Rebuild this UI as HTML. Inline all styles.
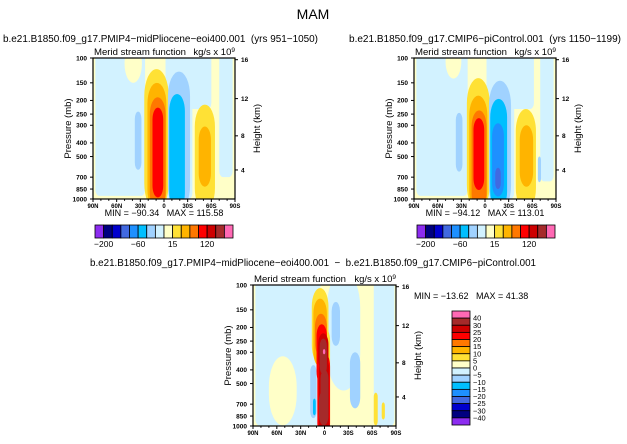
<!DOCTYPE html>
<html><head><meta charset="utf-8">
<style>
html,body{margin:0;padding:0;background:#fff;}
svg{display:block;font-family:"Liberation Sans",sans-serif;}
text{white-space:pre;}
</style></head>
<body>
<svg id="fig" width="627" height="444" viewBox="0 0 627 444" xmlns="http://www.w3.org/2000/svg">
<text x="313" y="19" font-size="14" text-anchor="middle">MAM</text>
<text x="3" y="42" font-size="10" textLength="315" lengthAdjust="spacingAndGlyphs">b.e21.B1850.f09_g17.PMIP4−midPliocene−eoi400.001  (yrs 951−1050)</text>
<text x="349" y="42" font-size="10" textLength="272" lengthAdjust="spacingAndGlyphs">b.e21.B1850.f09_g17.CMIP6−piControl.001  (yrs 1150−1199)</text>
<text x="313" y="266" font-size="10" text-anchor="middle" textLength="446" lengthAdjust="spacingAndGlyphs">b.e21.B1850.f09_g17.PMIP4−midPliocene−eoi400.001  −  b.e21.B1850.f09_g17.CMIP6−piControl.001</text>
</svg>
<script>
// ---- data ----
const colors16 = ["#8c2cf0","#000080","#0000cd","#4169e1","#1e90ff","#00bfff","#a0d2ff","#d2f2ff","#ffffc8","#ffe135","#ffb400","#ff7800","#ff0000","#cd0000","#a52a2a","#ff69b4"];
const topBarLabels = ["−200","−60","15","120"];
const topBarLabelIdx = [1,5,9,13];
const diffBarLabels = ["40","30","25","20","15","10","5","0","−5","−10","−15","−20","−25","−30","−40"];
const pressureTicks = [100,150,200,250,300,400,500,700,850,1000];
const heightTicks = [16,12,8,4];
const heightFrac = [0.012,0.288,0.552,0.794];
const latTicks = [90,60,30,0,-30,-60,-90];
const latLabels = ["90N","60N","30N","0","30S","60S","90S"];
// blobs: [latNorth, latSouth, pTop, pBottom, colorIndex, roundness(1=oval,0=box)]
const blobs1 = [
 [87,24,80,950,7,0],[50,28,80,150,8,1],[-2,-60,80,230,7,0],[-2,-36,80,1000,7,0],[-70,-87,80,700,7,0],
 [25,-6,120,1200,9,1],[21,-3,150,1200,10,1],[18,-2,190,1200,11,1],[14.6,1,225,975,12,1],
 [-5,-33,125,1200,6,1],[-6.6,-26.5,180,1200,5,1],
 [-39,-64.6,214,1200,9,1],[-44,-59.5,306,818,10,1],
 [37,28.6,240,620,6,1]
];
const blobs2 = [
 [87,22,80,950,7,0],[50,30,80,140,8,1],[-2,-62,80,230,7,0],[-2,-37,80,1000,7,0],[-70,-87,80,750,7,0],
 [23,-6,139,1200,9,1],[20,-3,185,1200,10,1],[17,-2,235,1200,11,1],[14.6,1,267,863,12,1],
 [-5,-33,145,1200,6,1],[-6.6,-28,195,1200,5,1],[-9,-24,290,960,4,1],[-13,-20,600,850,3,1],
 [-39,-64.6,230,1200,9,1],[-44,-61,300,818,10,1],
 [37,28.6,245,640,6,1],[-67,-71,500,760,6,1]
];
const blobs3 = [
 [87,5,80,990,7,0],[70,35,320,990,8,1],[-3,-45,80,560,7,1],[-62,-88,80,1000,7,0],
 [16,-5,105,360,9,1],[8,-7,200,1200,9,1],[14,-3,125,380,10,1],[12,-3,160,320,11,1],
 [10,-3,190,500,12,1],[9,-7,300,1200,12,1],[8,-5,220,400,13,1],[7,-6,330,1200,13,1],[7,-5,560,990,14,1],[6,-3,240,430,14,1],[5,-5,400,980,14,1],
 [2,-1,285,310,15,1],
 [-9,-19.5,132,270,6,1],[-32,-45,300,750,6,1],[18,10,370,880,6,1],[14.5,11,640,840,5,1],
 [-62,-67,580,990,9,1],[-72,-76,680,900,9,1]
];
const panels = [
 {id:"panel1", x0:93, x1:235, y0:58, y1:199, blobs:blobs1, minmax:"MIN = −90.34   MAX = 115.58"},
 {id:"panel2", x0:414, x1:556, y0:58, y1:199, blobs:blobs2, minmax:"MIN = −94.12   MAX = 113.01"},
 {id:"panel3", x0:253, x1:396, y0:285, y1:426, blobs:blobs3, minmax:null}
];
// ---- drawing ----
const NS="http://www.w3.org/2000/svg";
const svg=document.getElementById('fig');
function mk(tag,attrs,parent){const e=document.createElementNS(NS,tag);for(const k in attrs)e.setAttribute(k,attrs[k]);(parent||svg).appendChild(e);return e;}
panels.forEach((P,pi)=>{
 const xs=lat=>P.x0+(90-lat)/180*(P.x1-P.x0);
 const ys=p=>P.y0+Math.log(p/100)/Math.log(10)*(P.y1-P.y0);
 const g=mk('g',{});
 
 
 const cp=mk('clipPath',{id:'clip'+pi},g);
 mk('rect',{x:P.x0,y:P.y0,width:P.x1-P.x0,height:P.y1-P.y0},cp);
 const bg=mk('rect',{x:P.x0,y:P.y0,width:P.x1-P.x0,height:P.y1-P.y0,fill:colors16[8]},g);
 
 
 const cg=mk('g',{'clip-path':'url(#clip'+pi+')'},g);
 P.blobs.forEach(b=>{
  const xa=xs(b[0]),xb=xs(b[1]),ya=ys(b[2]),yb=ys(b[3]);
  const w=xb-xa,h=yb-ya;
  const rx=b[5]?w/2:4, ry=b[5]?Math.min(h/2,w*1.1):6;
  const r=mk('rect',{x:xa,y:ya,width:w,height:h,rx:rx,ry:ry,fill:colors16[b[4]]},cg);
  
  
 });
 const fr=mk('rect',{x:P.x0,y:P.y0,width:P.x1-P.x0,height:P.y1-P.y0,fill:'none',stroke:'#000','stroke-width':1.2},g);
 
 
 pressureTicks.forEach(p=>{
  const y=ys(p);
  mk('line',{x1:P.x0-3,x2:P.x0,y1:y,y2:y,stroke:'#000','stroke-width':1},g);
  const t=mk('text',{x:P.x0-6,y:y+2.3,'font-size':6.5,'text-anchor':'end','font-weight':'bold'},g);
  
  
  t.textContent=p;
 });
 heightTicks.forEach((h,i)=>{
  const y=P.y0+heightFrac[i]*(P.y1-P.y0);
  mk('line',{x1:P.x1,x2:P.x1+3,y1:y,y2:y,stroke:'#000','stroke-width':1},g);
  const t=mk('text',{x:P.x1+6,y:y+2.3,'font-size':6.5,'font-weight':'bold'},g);
  
  
  t.textContent=h;
 });
 for(let lat=90;lat>=-90;lat-=10){
  const x=xs(lat),maj=lat%30===0;
  mk('line',{x1:x,x2:x,y1:P.y1,y2:P.y1+(maj?3:1.8),stroke:'#000','stroke-width':1},g);
 }
 latTicks.forEach((lat,i)=>{
  const t=mk('text',{x:xs(lat),y:P.y1+9,'font-size':6,'text-anchor':'middle','font-weight':'bold'},g);
  
  
  t.textContent=latLabels[i];
 });
 const st=mk('text',{x:P.x0+1,y:P.y0-3,'font-size':9.5,textLength:92,lengthAdjust:'spacingAndGlyphs'},g);
 
 
 st.textContent='Merid stream function';
 const un=mk('text',{x:P.x1,y:P.y0-3,'font-size':9.5,'text-anchor':'end'},g);
 
 
 un.innerHTML='kg/s x 10<tspan dy="-3" font-size="6.5">9</tspan>';
 const ym=(P.y0+P.y1)/2;
 const yl=mk('text',{x:P.x0-22,y:ym,'font-size':9.5,'text-anchor':'middle',transform:`rotate(-90 ${P.x0-22} ${ym})`},g);
 
 
 yl.textContent='Pressure (mb)';
 const hl=mk('text',{x:P.x1+25,y:ym,'font-size':9.5,'text-anchor':'middle',transform:`rotate(-90 ${P.x1+25} ${ym})`},g);
 
 
 hl.textContent='Height (km)';
 if(P.minmax){
  const mm=mk('text',{x:(P.x0+P.x1)/2,y:P.y1+17,'font-size':9,'text-anchor':'middle'},g);
  
  
  mm.textContent=P.minmax;
 }
});
// top colorbars
[95,417].forEach((bx,k)=>{
 const g=mk('g',{});
 
 
 const bw=(233-95)/16;
 colors16.forEach((c,i)=>{
  const r=mk('rect',{x:bx+i*bw,y:225,width:bw,height:13,fill:c,stroke:'#000','stroke-width':0.8},g);
  
  
 });
 topBarLabels.forEach((l,i)=>{
  const t=mk('text',{x:bx+topBarLabelIdx[i]*bw,y:247,'font-size':8.5,'text-anchor':'middle'},g);
  
  
  t.textContent=l;
 });
});
// diff colorbar (vertical)
{
 const g=mk('g',{});
 
 
 const bh=(425-311)/16;
 colors16.slice().reverse().forEach((c,i)=>{
  const r=mk('rect',{x:452,y:311+i*bh,width:18,height:bh,fill:c,stroke:'#000','stroke-width':0.8},g);
  
  
 });
 diffBarLabels.forEach((l,i)=>{
  const t=mk('text',{x:473,y:311+(i+1)*bh+2.5,'font-size':7.5},g);
  
  
  t.textContent=l;
 });
 const mm=mk('text',{x:414,y:299,'font-size':9},g);
 
 
 mm.textContent='MIN = −13.62   MAX = 41.38';
}
</script>
</body></html>
